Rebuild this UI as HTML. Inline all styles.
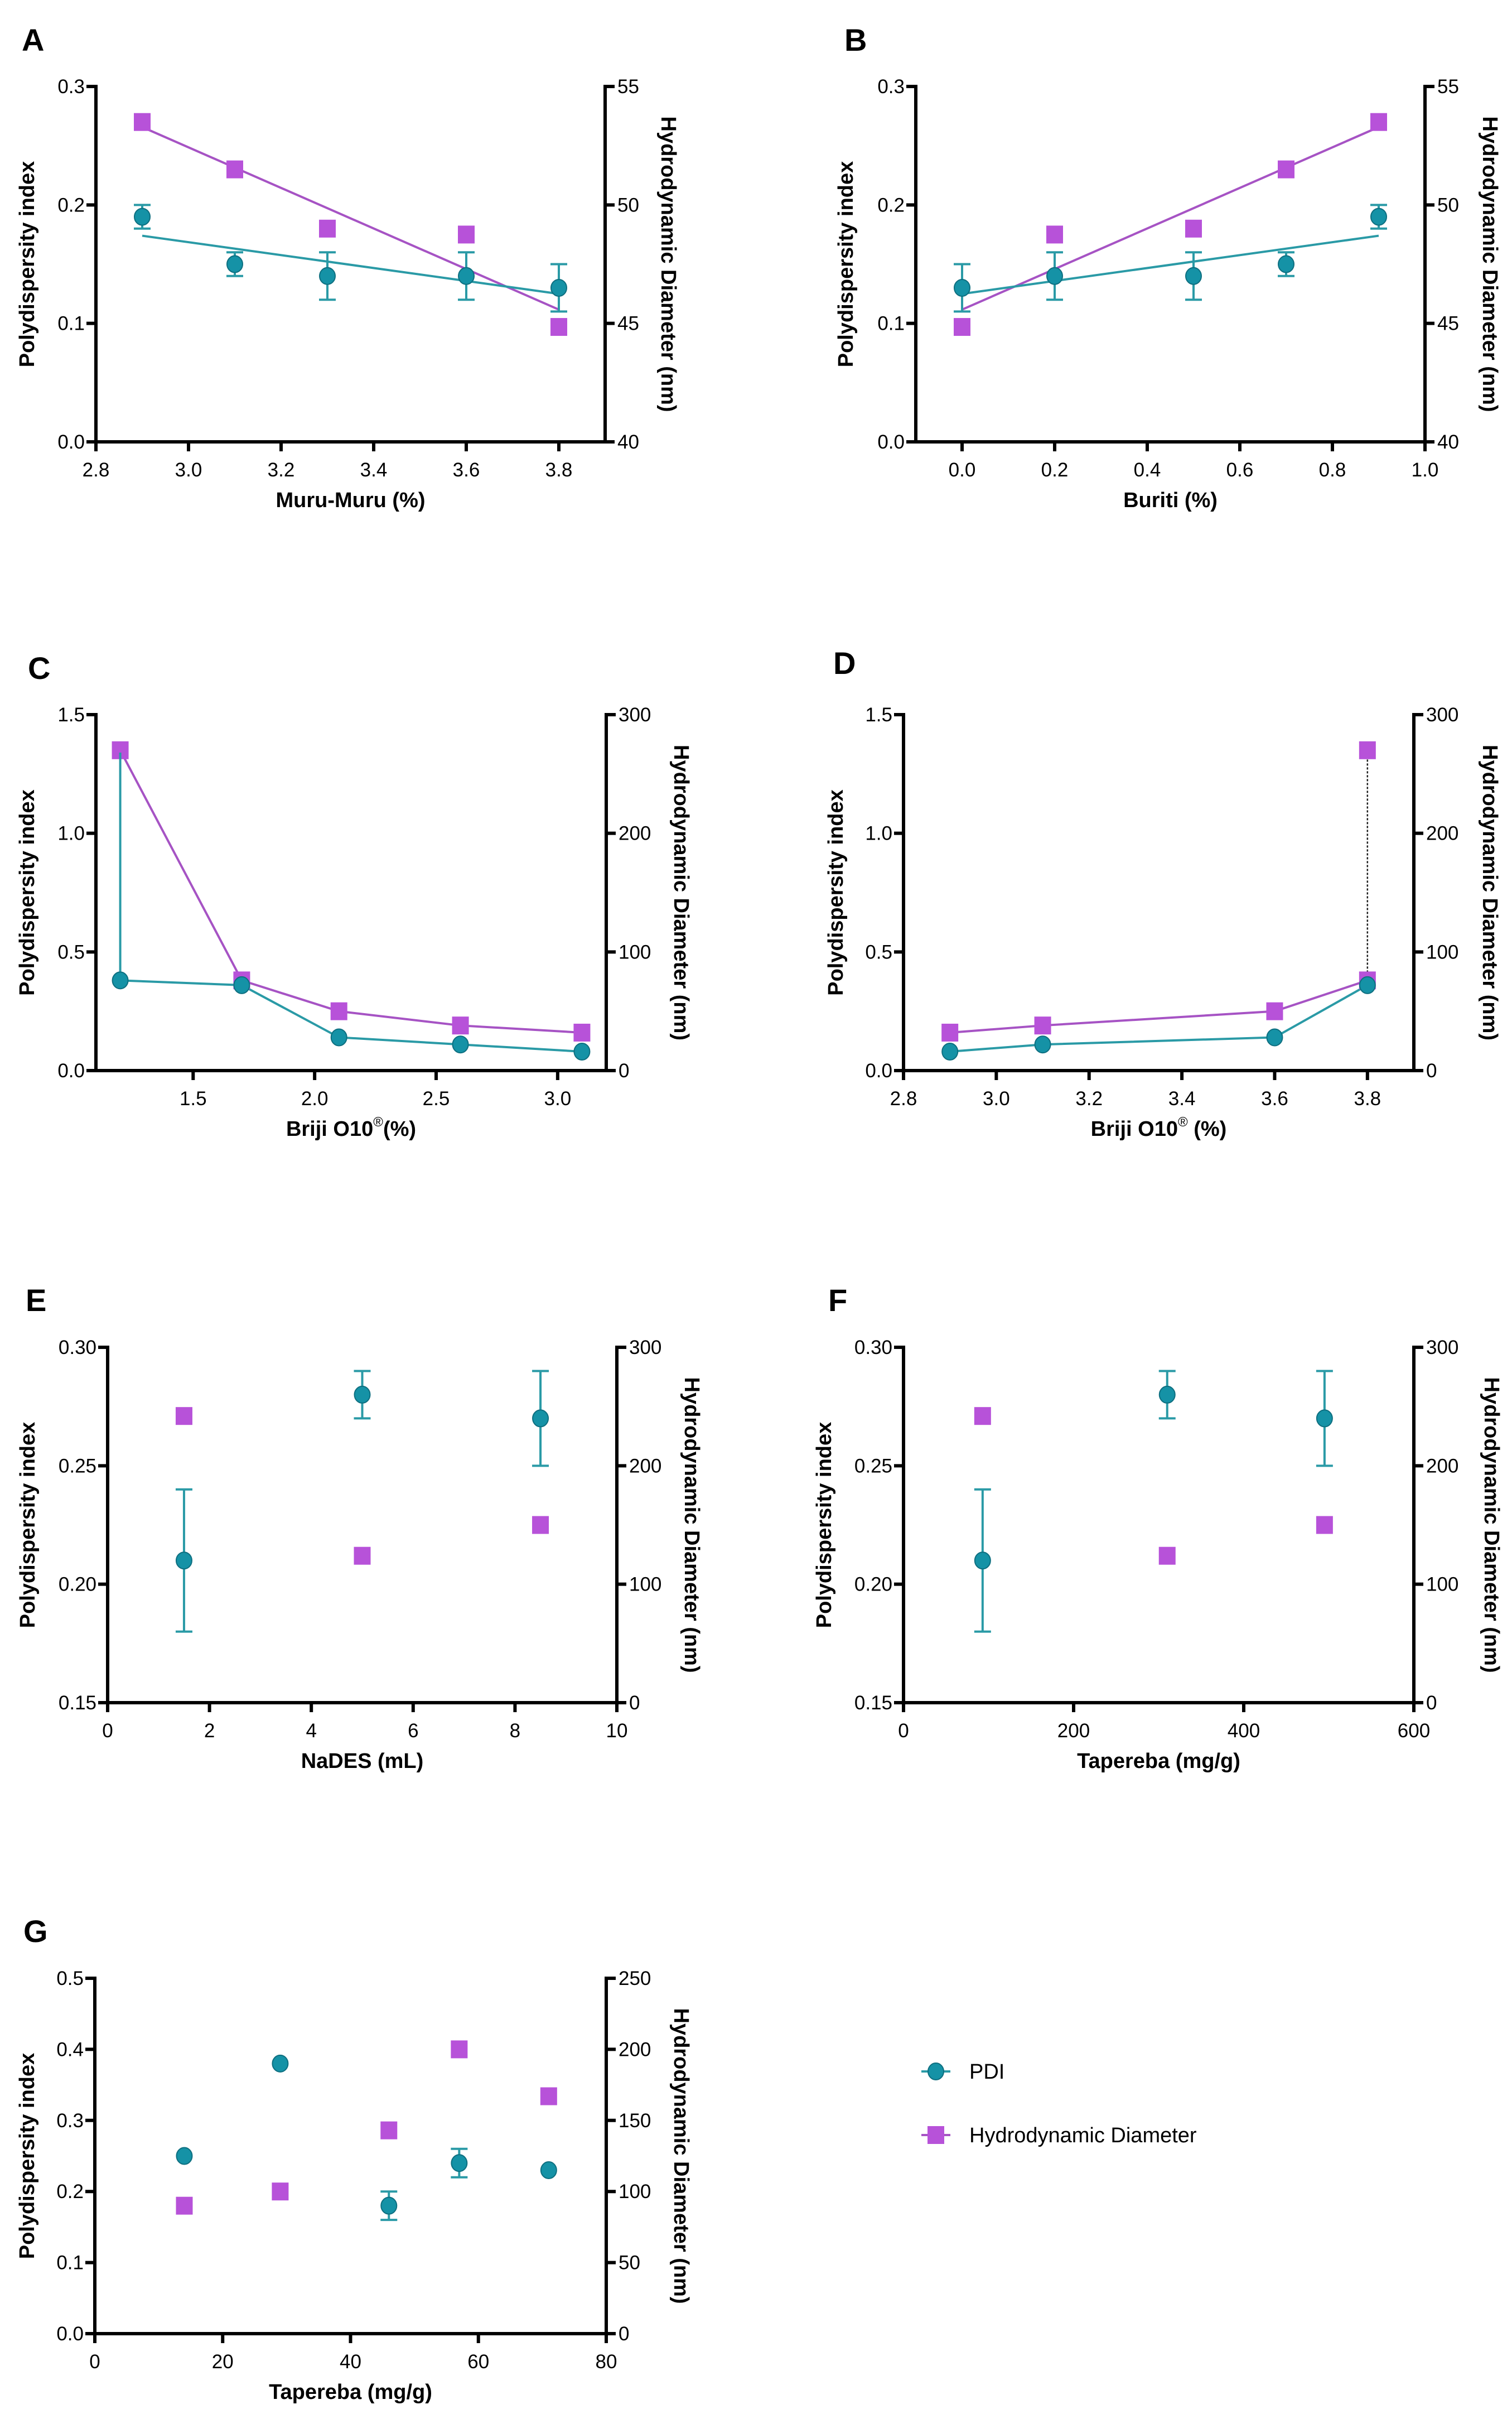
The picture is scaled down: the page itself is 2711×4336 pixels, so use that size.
<!DOCTYPE html>
<html><head><meta charset="utf-8"><style>
html,body{margin:0;padding:0;background:#fff;}
svg{display:block;font-family:"Liberation Sans",Arial,sans-serif;}
</style></head><body>
<svg id="fig" xmlns="http://www.w3.org/2000/svg" width="2711" height="4336" viewBox="0 0 2711 4336">
<rect width="2711" height="4336" fill="#fff"/>
</svg>
<script>
// ---- Panel A data ----
const aX = [2.9, 3.1, 3.3, 3.6, 3.8];
const aPdi = [0.19, 0.15, 0.14, 0.14, 0.13];
const aPdiErr = [0.01, 0.01, 0.02, 0.02, 0.02];
const aHd = [53.5, 51.5, 49.0, 48.75, 44.85];
const aXTicks = [2.8, 3.0, 3.2, 3.4, 3.6, 3.8];
const aXTickLabels = ["2.8", "3.0", "3.2", "3.4", "3.6", "3.8"];
const aYTicks = [0, 0.1, 0.2, 0.3];
const aYTickLabels = ["0.0", "0.1", "0.2", "0.3"];
const aY2Ticks = [40, 45, 50, 55];
const aY2TickLabels = ["40", "45", "50", "55"];
// ---- Panel B data ----
const bX = [0, 0.2, 0.5, 0.7, 0.9];
const bPdi = [0.13, 0.14, 0.14, 0.15, 0.19];
const bPdiErr = [0.02, 0.02, 0.02, 0.01, 0.01];
const bHd = [44.85, 48.75, 49.0, 51.5, 53.5];
const bXTicks = [0, 0.2, 0.4, 0.6, 0.8, 1.0];
const bXTickLabels = ["0.0", "0.2", "0.4", "0.6", "0.8", "1.0"];
// ---- Panel C data ----
const cX = [1.2, 1.7, 2.1, 2.6, 3.1];
const cPdi = [0.38, 0.36, 0.14, 0.11, 0.08];
const cPdiErrUp = [0.96, 0, 0, 0, 0];
const cHd = [270, 76, 50, 38, 32];
const cXTicks = [1.5, 2.0, 2.5, 3.0];
const cXTickLabels = ["1.5", "2.0", "2.5", "3.0"];
const cYTicks = [0, 0.5, 1.0, 1.5];
const cYTickLabels = ["0.0", "0.5", "1.0", "1.5"];
const cY2Ticks = [0, 100, 200, 300];
const cY2TickLabels = ["0", "100", "200", "300"];
// ---- Panel D data ----
const dX = [2.9, 3.1, 3.6, 3.8];
const dPdi = [0.08, 0.11, 0.14, 0.36];
const dHd = [32, 38, 50, 76];
const dHdErrUp = [0, 0, 0, 192];
const dHdHigh = [270];
const dHdHighX = [3.8];
const dXTicks = [2.8, 3.0, 3.2, 3.4, 3.6, 3.8];
const dXTickLabels = ["2.8", "3.0", "3.2", "3.4", "3.6", "3.8"];
// ---- Panel E data ----
const eX = [1.5, 5, 8.5];
const ePdi = [0.21, 0.28, 0.27];
const ePdiErr = [0.03, 0.01, 0.02];
const eHd = [242, 124, 150];
const eXTicks = [0, 2, 4, 6, 8, 10];
const eXTickLabels = ["0", "2", "4", "6", "8", "10"];
const eYTicks = [0.15, 0.20, 0.25, 0.30];
const eYTickLabels = ["0.15", "0.20", "0.25", "0.30"];
// ---- Panel F data ----
const fX = [93, 310, 495];
const fPdi = [0.21, 0.28, 0.27];
const fPdiErr = [0.03, 0.01, 0.02];
const fHd = [242, 124, 150];
const fXTicks = [0, 200, 400, 600];
const fXTickLabels = ["0", "200", "400", "600"];
// ---- Panel G data ----
const gX = [14, 29, 46, 57, 71];
const gPdi = [0.25, 0.38, 0.18, 0.24, 0.23];
const gPdiErr = [0, 0, 0.02, 0.02, 0];
const gHd = [90, 100, 143, 200, 167];
const gXTicks = [0, 20, 40, 60, 80];
const gXTickLabels = ["0", "20", "40", "60", "80"];
const gYTicks = [0, 0.1, 0.2, 0.3, 0.4, 0.5];
const gYTickLabels = ["0.0", "0.1", "0.2", "0.3", "0.4", "0.5"];
const gY2Ticks = [0, 50, 100, 150, 200, 250];
const gY2TickLabels = ["0", "50", "100", "150", "200", "250"];

const NS = "http://www.w3.org/2000/svg";
const svg = document.getElementById("fig");
const TEAL = "#1592a6", TEALD = "#0e6f80", TEALL = "#2a9aa6", PURP = "#b752d9", PURPL = "#a653c4";
function mk(tag, attrs, parent) {
  const el = document.createElementNS(NS, tag);
  for (const k in attrs) el.setAttribute(k, attrs[k]);
  (parent || svg).appendChild(el);
  return el;
}
function scale(d0, d1, r0, r1) { return v => r0 + (v - d0) / (d1 - d0) * (r1 - r0); }
function regress(xs, ys) {
  const n = xs.length, mx = xs.reduce((a, b) => a + b) / n, my = ys.reduce((a, b) => a + b) / n;
  let sxy = 0, sxx = 0;
  for (let i = 0; i < n; i++) { sxy += (xs[i] - mx) * (ys[i] - my); sxx += (xs[i] - mx) ** 2; }
  const m = sxy / sxx; return x => my + m * (x - mx);
}

function panel(p) {
  const g = mk("g", {});
  
  
  const L = p.L, R = p.R, T = p.T, B = p.B;
  const sx = scale(p.xd[0], p.xd[1], L, R);
  const sy = scale(p.yd[0], p.yd[1], B, T);
  const sy2 = scale(p.y2d[0], p.y2d[1], B, T);
  const lab = mk("text", {x: p.lx, y: p.ly, "font-size": 56, "font-weight": "bold"}, g);
  lab.textContent = p.id;
  
  
  const ax = mk("g", {stroke: "#000", "stroke-width": 6, fill: "none"}, g);
  
  
  mk("line", {x1: L, y1: T - 3, x2: L, y2: B + 3}, ax);
  mk("line", {x1: R, y1: T - 3, x2: R, y2: B + 3}, ax);
  mk("line", {x1: L - 3, y1: B, x2: R + 3, y2: B}, ax);
  const tl = mk("g", {"font-size": 35, fill: "#000"}, g);
  
  
  p.xt.forEach((v, i) => {
    mk("line", {x1: sx(v), y1: B, x2: sx(v), y2: B + 17}, ax);
    const t = mk("text", {x: sx(v), y: B + 62, "text-anchor": "middle"}, tl);
    t.textContent = p.xtl[i];
    
    
  });
  p.yt.forEach((v, i) => {
    mk("line", {x1: L - 17, y1: sy(v), x2: L, y2: sy(v)}, ax);
    const t = mk("text", {x: L - 20, y: sy(v) + 12, "text-anchor": "end"}, tl);
    t.textContent = p.ytl[i];
    
    
  });
  p.y2t.forEach((v, i) => {
    mk("line", {x1: R, y1: sy2(v), x2: R + 17, y2: sy2(v)}, ax);
    const t = mk("text", {x: R + 22, y: sy2(v) + 12, "text-anchor": "start"}, tl);
    t.textContent = p.y2tl[i];
    
    
  });
  const cy = (T + B) / 2;
  const yt = mk("text", {x: 0, y: 0, "font-size": 38, "font-weight": "bold", "text-anchor": "middle", transform: `translate(${L - p.lo},${cy}) rotate(-90)`}, g);
  yt.textContent = "Polydispersity index";
  
  
  const y2 = mk("text", {x: 0, y: 0, "font-size": 38, "font-weight": "bold", "text-anchor": "middle", transform: `translate(${R + p.ro},${cy}) rotate(90)`}, g);
  y2.textContent = "Hydrodynamic Diameter (nm)";
  
  
  const xt = mk("text", {x: (L + R) / 2, y: B + 117, "font-size": 38, "font-weight": "bold", "text-anchor": "middle"}, g);
  if (p.reg) {
    xt.textContent = "Briji O10";
    const s = mk("tspan", {"font-size": 24, "font-weight": "normal", dy: -17}, xt); s.textContent = "®";
    const s2 = mk("tspan", {dy: 17}, xt); s2.textContent = p.regSpace ? " (%)" : "(%)";
  } else xt.textContent = p.xtitle;
  
  

  const marks = mk("g", {}, g);
  
  
  if (p.fit) {
    const fp = regress(p.x, p.pdi), fh = regress(p.x, p.hd);
    const x0 = p.x[0], x1 = p.x[p.x.length - 1];
    const l1 = mk("line", {x1: sx(x0), y1: sy2(fh(x0)), x2: sx(x1), y2: sy2(fh(x1)), stroke: PURPL, "stroke-width": 4}, marks);
    
    
    const l2 = mk("line", {x1: sx(x0), y1: sy(fp(x0)), x2: sx(x1), y2: sy(fp(x1)), stroke: TEALL, "stroke-width": 4}, marks);
    
    
  }
  if (p.connect) {
    const ph = mk("polyline", {points: p.x.map((v, i) => sx(v) + "," + sy2(p.hd[i])).join(" "), fill: "none", stroke: PURPL, "stroke-width": 4}, marks);
    
    
    const pp = mk("polyline", {points: p.x.map((v, i) => sx(v) + "," + sy(p.pdi[i])).join(" "), fill: "none", stroke: TEALL, "stroke-width": 4}, marks);
    
    
  }
  if (p.hdErrUp) p.x.forEach((v, i) => {
    if (!p.hdErrUp[i]) return;
    const e = mk("line", {x1: sx(v), y1: sy2(p.hd[i]), x2: sx(v), y2: sy2(p.hd[i] + p.hdErrUp[i]), stroke: "#222", "stroke-width": 2.5, "stroke-dasharray": "4 3"}, marks);
    
    
    mk("line", {x1: sx(v) - 14, y1: sy2(p.hd[i] + p.hdErrUp[i]), x2: sx(v) + 14, y2: sy2(p.hd[i] + p.hdErrUp[i]), stroke: "#222", "stroke-width": 2.5}, marks);
  });
  const drawSq = (x, v) => {
    const s = mk("rect", {x: sx(x) - 15, y: sy2(v) - 16, width: 30, height: 32, fill: PURP}, marks);
    
    
  };
  p.x.forEach((v, i) => drawSq(v, p.hd[i]));
  if (p.hdHigh) p.hdHigh.forEach((v, i) => drawSq(p.hdHighX[i], v));
  p.x.forEach((v, i) => {
    const up = p.errUp ? p.errUp[i] : (p.err ? p.err[i] : 0);
    const dn = p.errUp ? 0 : (p.err ? p.err[i] : 0);
    if (!up && !dn) return;
    const eb = mk("g", {stroke: TEALL, "stroke-width": 4}, marks);
    
    
    mk("line", {x1: sx(v), y1: sy(p.pdi[i] - dn), x2: sx(v), y2: sy(p.pdi[i] + up)}, eb);
    if (!p.errUp) {
      mk("line", {x1: sx(v) - 15, y1: sy(p.pdi[i] + up), x2: sx(v) + 15, y2: sy(p.pdi[i] + up)}, eb);
      mk("line", {x1: sx(v) - 15, y1: sy(p.pdi[i] - dn), x2: sx(v) + 15, y2: sy(p.pdi[i] - dn)}, eb);
    }
  });
  p.x.forEach((v, i) => {
    const c = mk("ellipse", {cx: sx(v), cy: sy(p.pdi[i]), rx: 14, ry: 15, fill: TEAL, stroke: TEALD, "stroke-width": 2}, marks);
    
    
  });
}

panel({id: "A", lx: 39, ly: 91, L: 172, R: 1085, T: 155, B: 792, lo: 111, ro: 101, xd: [2.8, 3.9], yd: [0, 0.3], y2d: [40, 55],
  x: aX, pdi: aPdi, err: aPdiErr, hd: aHd, fit: true, xt: aXTicks, xtl: aXTickLabels, yt: aYTicks, ytl: aYTickLabels, y2t: aY2Ticks, y2tl: aY2TickLabels, xtitle: "Muru-Muru (%)"});
panel({id: "B", lx: 1514, ly: 91, L: 1642, R: 2555, T: 155, B: 792, lo: 113, ro: 104, xd: [-0.1, 1.0], yd: [0, 0.3], y2d: [40, 55],
  x: bX, pdi: bPdi, err: bPdiErr, hd: bHd, fit: true, xt: bXTicks, xtl: bXTickLabels, yt: aYTicks, ytl: aYTickLabels, y2t: aY2Ticks, y2tl: aY2TickLabels, xtitle: "Buriti (%)"});
panel({id: "C", lx: 50, ly: 1217, L: 172, R: 1087, T: 1281, B: 1919, lo: 111, ro: 122, xd: [1.1, 3.2], yd: [0, 1.5], y2d: [0, 300],
  x: cX, pdi: cPdi, errUp: cPdiErrUp, hd: cHd, connect: true, xt: cXTicks, xtl: cXTickLabels, yt: cYTicks, ytl: cYTickLabels, y2t: cY2Ticks, y2tl: cY2TickLabels, reg: true});
panel({id: "D", lx: 1494, ly: 1208, L: 1620, R: 2535, T: 1281, B: 1919, lo: 109, ro: 124, xd: [2.8, 3.9], yd: [0, 1.5], y2d: [0, 300],
  x: dX, pdi: dPdi, hd: dHd, hdErrUp: dHdErrUp, hdHigh: dHdHigh, hdHighX: dHdHighX, connect: true, xt: dXTicks, xtl: dXTickLabels, yt: cYTicks, ytl: cYTickLabels, y2t: cY2Ticks, y2tl: cY2TickLabels, reg: true, regSpace: true});
panel({id: "E", lx: 46, ly: 2350, L: 193, R: 1106, T: 2415, B: 3052, lo: 131, ro: 122, xd: [0, 10], yd: [0.15, 0.30], y2d: [0, 300],
  x: eX, pdi: ePdi, err: ePdiErr, hd: eHd, xt: eXTicks, xtl: eXTickLabels, yt: eYTicks, ytl: eYTickLabels, y2t: cY2Ticks, y2tl: cY2TickLabels, xtitle: "NaDES (mL)"});
panel({id: "F", lx: 1485, ly: 2350, L: 1620, R: 2535, T: 2415, B: 3052, lo: 130, ro: 127, xd: [0, 600], yd: [0.15, 0.30], y2d: [0, 300],
  x: fX, pdi: fPdi, err: fPdiErr, hd: fHd, xt: fXTicks, xtl: fXTickLabels, yt: eYTicks, ytl: eYTickLabels, y2t: cY2Ticks, y2tl: cY2TickLabels, xtitle: "Tapereba (mg/g)"});
panel({id: "G", lx: 42, ly: 3481, L: 170, R: 1087, T: 3546, B: 4183, lo: 109, ro: 122, xd: [0, 80], yd: [0, 0.5], y2d: [0, 250],
  x: gX, pdi: gPdi, err: gPdiErr, hd: gHd, xt: gXTicks, xtl: gXTickLabels, yt: gYTicks, ytl: gYTickLabels, y2t: gY2Ticks, y2tl: gY2TickLabels, xtitle: "Tapereba (mg/g)"});

const lg = mk("g", {});


const e1 = mk("g", {}, lg);


mk("line", {x1: 1652, y1: 3713, x2: 1704, y2: 3713, stroke: TEALL, "stroke-width": 4}, e1);
mk("ellipse", {cx: 1678, cy: 3713, rx: 14, ry: 15, fill: TEAL, stroke: TEALD, "stroke-width": 2}, e1);
const t1 = mk("text", {x: 1738, y: 3726, "font-size": 38}, e1); t1.textContent = "PDI";
const e2 = mk("g", {}, lg);


mk("line", {x1: 1652, y1: 3827, x2: 1704, y2: 3827, stroke: PURPL, "stroke-width": 4}, e2);
mk("rect", {x: 1663, y: 3811, width: 30, height: 32, fill: PURP}, e2);
const t2 = mk("text", {x: 1738, y: 3840, "font-size": 38}, e2); t2.textContent = "Hydrodynamic Diameter";
</script>
</body></html>
